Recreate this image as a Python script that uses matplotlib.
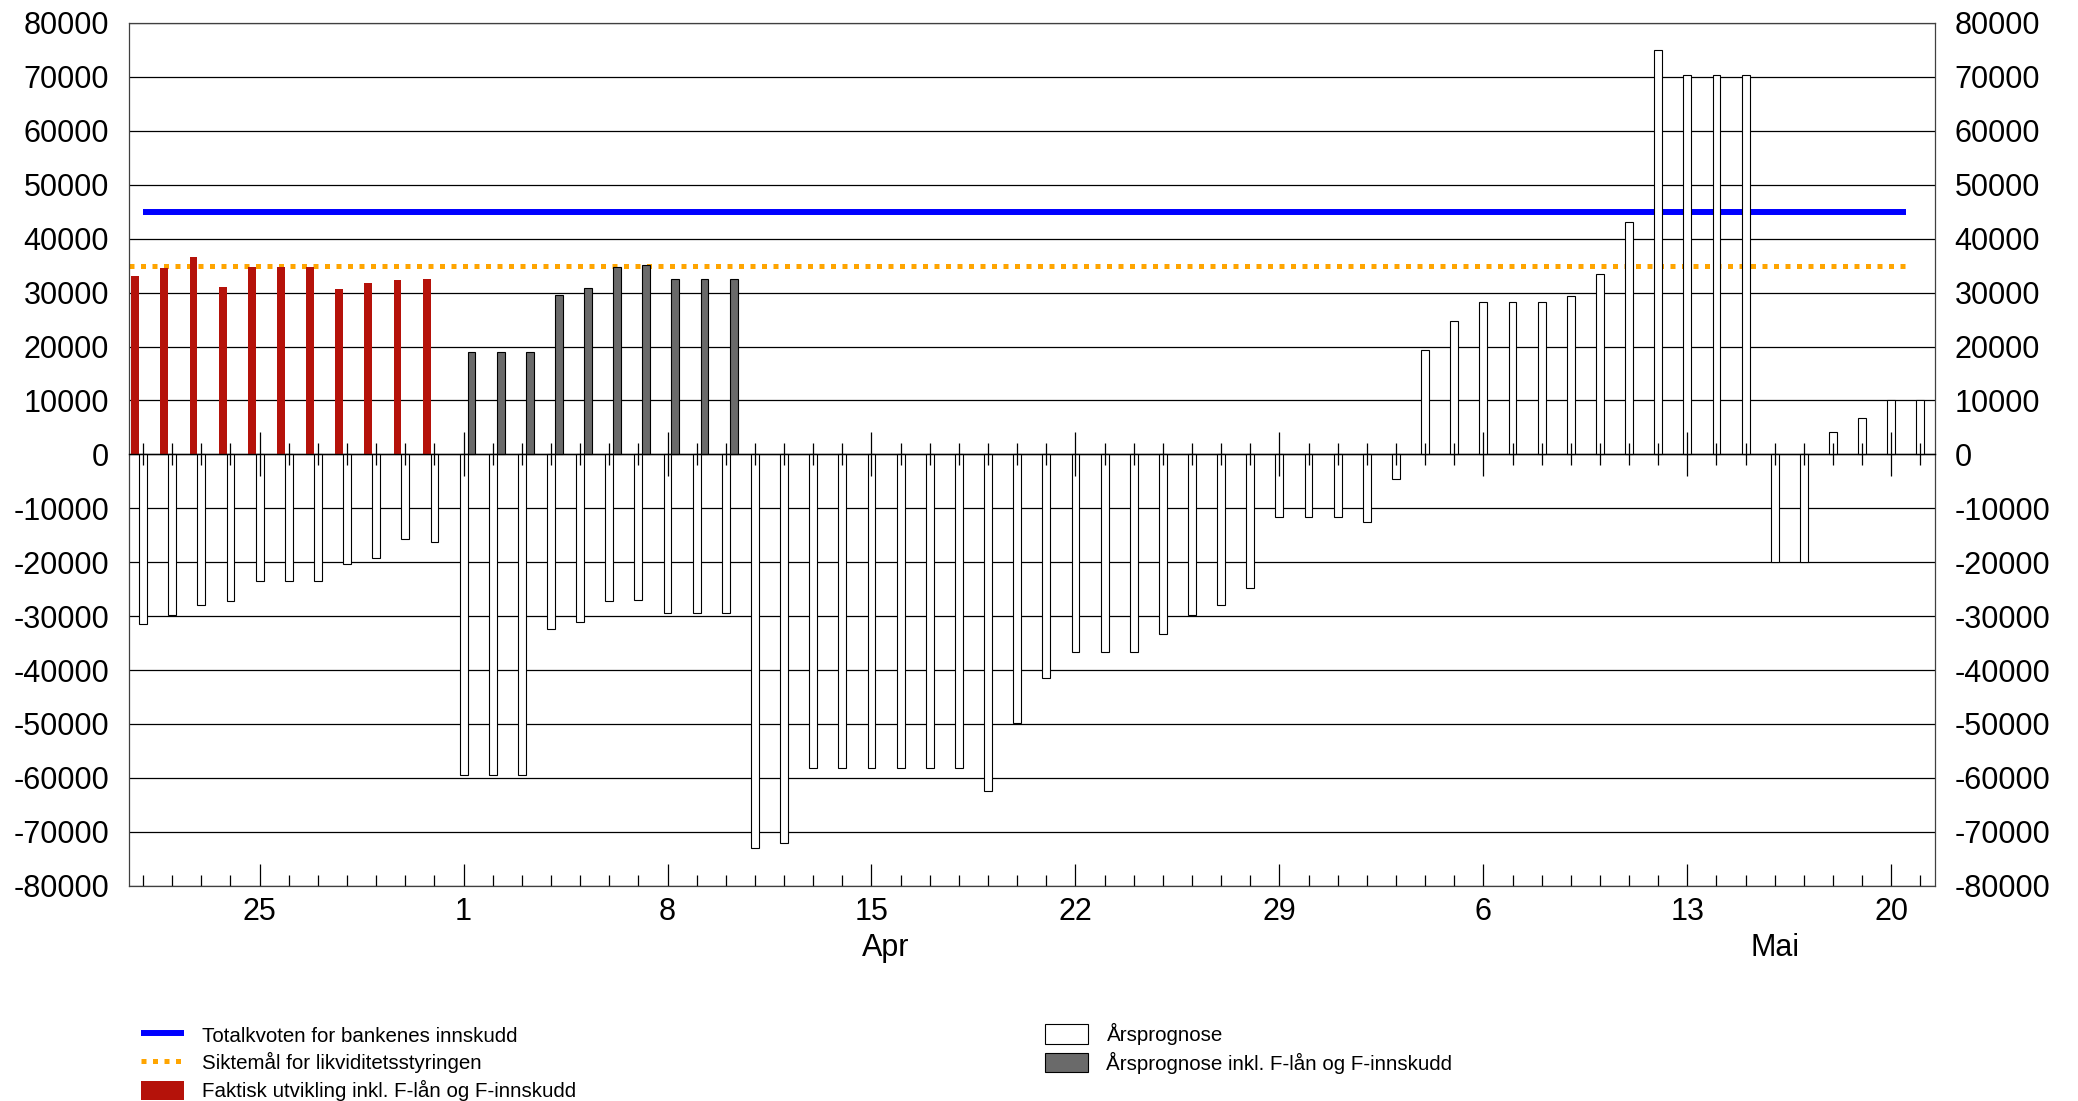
import numpy as np
import pandas as pd
import matplotlib
matplotlib.use('Agg')
import matplotlib.pyplot as plt
import matplotlib.transforms as mtransforms
from matplotlib.patches import Patch
from matplotlib.lines import Line2D

plt.rcParams['font.family'] = ['Liberation Sans', 'DejaVu Sans']
plt.rcParams['axes.unicode_minus'] = False

# one slot per calendar day, 21 mar - 21 mai
dates = pd.date_range('2005-03-21', '2005-05-21', freq='D')

# faktisk utvikling inkl. F-lån og F-innskudd (21.-31. mars)
faktisk = [33100, 34600, 36600, 31000, 34700, 34700, 34700, 30600, 31700, 32400, 32500]

# årsprognose inkl. F-lån og F-innskudd (1.-10. april)
prognose_fl = [19050, 19050, 19050, 29500, 30800, 34700, 35100, 32600, 32600, 32600]

# årsprognose, hele perioden
arsprognose = [-31400, -29800, -27900, -27200, -23500, -23500, -23500, -20400, -19200, -15700,
               -16300, -59500, -59500, -59500, -32400, -31100, -27200, -27000, -29500, -29500,
               -29500, -73100, -72000, -58100, -58100, -58100, -58100, -58100, -58100, -62500,
               -49900, -41400, -36700, -36700, -36700, -33300, -29800, -27900, -24800, -11600,
               -11600, -11600, -12500, -4500, 19300, 24800, 28300, 28300, 28300, 29400,
               33400, 43000, 74900, 70300, 70300, 70300, -20000, -20000, 4100, 6800,
               10000, 10000]

totalkvote = 45000
siktemaal = 35000
months = ['Apr', 'Mai']
month_nums = [4, 5]
yticks = list(range(-80000, 80001, 10000))

x = np.arange(len(dates))
n_f = len(faktisk)
x_f = x[:n_f]
x_fl = x[n_f:n_f + len(prognose_fl)]
fridays = x[dates.dayofweek == 4]

fig = plt.figure(figsize=(20.78, 11.01), dpi=100)
ax = fig.add_axes([128.5 / 2078, 1 - 885.7 / 1101, (1935 - 128.5) / 2078, (885.7 - 23) / 1101])

w = 0.27
ax.plot([x[0], x[-1] - 0.5], [totalkvote] * 2, color='#0000ff', lw=4.3, zorder=2.5,
        solid_capstyle='butt')
ax.plot([x[0] - 0.5, x[-1] - 0.5], [siktemaal] * 2, color='#ffa500', lw=3.6, zorder=2.5,
        ls=(0, (1.0, 1.3)), dash_capstyle='butt')

ax.bar(x, arsprognose, w, color='white', edgecolor='black', lw=0.8, zorder=3)
ax.bar(x_f - w, faktisk, w, color='#b5120a', lw=0, zorder=3)
ax.bar(x_fl + w, prognose_fl, w, color='#6a6a6a', edgecolor='black', lw=0.8, zorder=3)

ax.set_xlim(x[0] - 0.5, x[-1] + 0.5)
ax.set_ylim(yticks[0], yticks[-1])
ax.set_yticks(yticks)
ax.set_yticklabels([str(v) for v in yticks])
ax.yaxis.grid(True, color='black', lw=0.9)
ax.set_axisbelow(True)
ax.tick_params(axis='y', length=0, labelsize=22, pad=14, labelleft=True, labelright=True)

ax.set_xticks(fridays)
ax.set_xticklabels([str(d.day) for d in dates[fridays]])
ax.set_xticks(x, minor=True)
ax.tick_params(axis='x', which='major', direction='in', length=15.6, width=0.9,
               labelsize=22, pad=8)
ax.tick_params(axis='x', which='minor', direction='in', length=7.7, width=0.9)
for s in ax.spines.values():
    s.set_color('#404040')
    s.set_linewidth(0.9)

# akse med dagsmerker på nullinjen
ax2 = ax.twiny()
ax2.set_xlim(ax.get_xlim())
for s in ['top', 'left', 'right']:
    ax2.spines[s].set_visible(False)
ax2.spines['bottom'].set_position(('data', 0))
ax2.spines['bottom'].set_color('black')
ax2.spines['bottom'].set_linewidth(1.0)
ax2.xaxis.set_ticks_position('bottom')
ax2.set_xticks(fridays)
ax2.set_xticks(x, minor=True)
ax2.tick_params(axis='x', which='major', direction='inout', length=31, width=0.9,
                labelbottom=False, labeltop=False)
ax2.tick_params(axis='x', which='minor', direction='inout', length=15.5, width=0.9)

# månedsnavn midt i måneden
trans = mtransforms.blended_transform_factory(ax.transData, ax.transAxes)
for name, m in zip(months, month_nums):
    start = pd.Timestamp(2005, m, 1)
    end = start + pd.offsets.MonthEnd(0)
    c = ((start - dates[0]).days + (end - dates[0]).days) / 2
    ax.text(c, -0.0722, name, transform=trans, ha='center', va='center', fontsize=22)

leg_kw = dict(loc='upper left', frameon=False, fontsize=14.8, handlelength=2.08,
              handleheight=1.06, handletextpad=0.91, labelspacing=0.33,
              borderpad=0, borderaxespad=0)
h_left = [Line2D([], [], color='#0000ff', lw=4.3, solid_capstyle='butt'),
          Line2D([], [], color='#ffa500', lw=3.6, ls=(0, (1.0, 1.3))),
          Patch(facecolor='#b5120a', lw=0)]
l_left = ['Totalkvoten for bankenes innskudd', 'Siktemål for likviditetsstyringen',
          'Faktisk utvikling inkl. F-lån og F-innskudd']
fig.legend(h_left, l_left, bbox_to_anchor=(141 / 2078, 1 - 1025 / 1101), **leg_kw)
h_right = [Patch(facecolor='white', edgecolor='black', lw=0.8),
           Patch(facecolor='#6a6a6a', edgecolor='black', lw=0.8)]
l_right = ['Årsprognose', 'Årsprognose inkl. F-lån og F-innskudd']
fig.legend(h_right, l_right, bbox_to_anchor=(1045 / 2078, 1 - 1023 / 1101), **leg_kw)

fig.savefig('out.png', dpi=100)
